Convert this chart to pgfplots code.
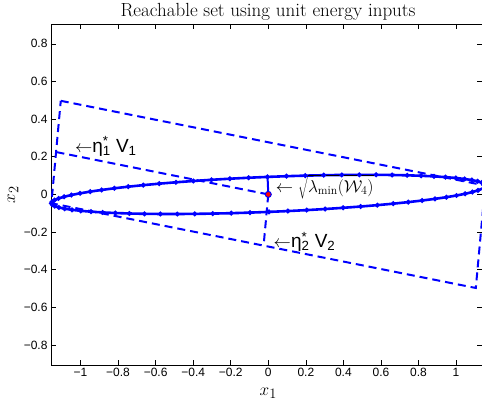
\documentclass[border=0pt]{standalone}
\usepackage{fontspec}
\newfontfamily\hv{Liberation Sans}
\usepackage{pgfplots}
\usepackage{pgfplotstable}
\pgfplotsset{compat=1.18}

% parallelogram corners = +-eta1V1 +- eta2V2
\pgfplotstableread{
x y
-1.105 0.497
1.155 0.047
1.105 -0.497
-1.155 -0.047
-1.105 0.497
}\pgram

\newcommand{\arr}{{\fontsize{16}{18}\selectfont$\leftarrow$}}

\begin{document}
\begin{tikzpicture}
\useasboundingbox (-51pt,-39pt) rectangle (431pt,365pt);
\begin{axis}[
    scale only axis,
    width=431pt, height=341pt,
    xmin=-1.157, xmax=1.138,
    ymin=-0.906, ymax=0.905,
    axis line style={line width=0.8pt, black},
    tick align=inside,
    major tick length=5pt,
    tick style={black, line width=0.5pt},
    xtick={-1,-0.8,-0.6,-0.4,-0.2,0,0.2,0.4,0.6,0.8,1},
    xticklabels={−1,−0.8,−0.6,−0.4,−0.2,0,0.2,0.4,0.6,0.8,1},
    ytick={-0.8,-0.6,-0.4,-0.2,0,0.2,0.4,0.6,0.8},
    yticklabels={−0.8,−0.6,−0.4,−0.2,0,0.2,0.4,0.6,0.8},
    ticklabel style={font=\hv\fontsize{12}{14}\selectfont},
    xlabel={$x_1$},
    xlabel style={font=\fontsize{19}{22}\selectfont, at={(axis description cs:0.504,-0.082)}, anchor=center},
    ylabel={$x_2$},
    ylabel style={font=\fontsize{19}{22}\selectfont, at={(axis description cs:-0.088,0.5)}, anchor=center},
]
% bounding parallelogram
\addplot[blue, line width=2pt, dash pattern=on 8pt off 5pt] table {\pgram};
% eta_1 V_1
\addplot[blue, line width=2pt, dash pattern=on 8pt off 5pt] coordinates {(0,0) (-1.13,0.225)};
% eta_2 V_2
\addplot[blue, line width=2pt, dash pattern=on 8pt off 5pt] coordinates {(0,0) (-0.025,-0.272)};
% reachable ellipse
\addplot[blue, line width=2.6pt, mark=*, mark size=0.9pt] coordinates {
(1.1550,0.0470) (1.1503,0.0549) (1.1368,0.0624) (1.1147,0.0695) (1.0841,0.0760)
(1.0452,0.0819) (0.9984,0.0872) (0.9440,0.0918) (0.8824,0.0957) (0.8141,0.0989)
(0.7396,0.1014) (0.6594,0.1031) (0.5742,0.1040) (0.4847,0.1041) (0.3915,0.1034)
(0.2953,0.1019) (0.1969,0.0997) (0.0969,0.0967) (-0.0038,0.0929) (-0.1044,0.0885)
(-0.2043,0.0834) (-0.3026,0.0776) (-0.3986,0.0712) (-0.4916,0.0644) (-0.5808,0.0570)
(-0.6656,0.0492) (-0.7454,0.0410) (-0.8194,0.0325) (-0.8872,0.0237) (-0.9483,0.0148)
(-1.0022,0.0058) (-1.0484,-0.0033) (-1.0867,-0.0124) (-1.1167,-0.0214) (-1.1382,-0.0302)
(-1.1510,-0.0387) (-1.1550,-0.0470) (-1.1503,-0.0549) (-1.1368,-0.0624) (-1.1147,-0.0695)
(-1.0841,-0.0760) (-1.0452,-0.0819) (-0.9984,-0.0872) (-0.9440,-0.0918) (-0.8824,-0.0957)
(-0.8141,-0.0989) (-0.7396,-0.1014) (-0.6594,-0.1031) (-0.5742,-0.1040) (-0.4847,-0.1041)
(-0.3915,-0.1034) (-0.2953,-0.1019) (-0.1969,-0.0997) (-0.0969,-0.0967) (0.0038,-0.0929)
(0.1044,-0.0885) (0.2043,-0.0834) (0.3026,-0.0776) (0.3986,-0.0712) (0.4916,-0.0644)
(0.5808,-0.0570) (0.6656,-0.0492) (0.7454,-0.0410) (0.8194,-0.0325) (0.8872,-0.0237)
(0.9483,-0.0148) (1.0022,-0.0058) (1.0484,0.0033) (1.0867,0.0124) (1.1167,0.0214)
(1.1382,0.0302) (1.1510,0.0387) (1.1550,0.0470)
};
% sqrt(lambda_min) along the minor axis
\addplot[blue, line width=2pt] coordinates {(0,0) (-0.0038,0.0929)};
% centre
\addplot[only marks, mark=*, mark size=3pt, draw=blue, fill=red, line width=1pt] coordinates {(0,0)};

\node[anchor=base west, inner sep=0pt, font=\hv\fontsize{19}{22}\selectfont]
    at (axis cs:-1.03,0.225) {\arr η\rlap{\textsuperscript{*}}\textsubscript{1} V\textsubscript{1}};
\node[anchor=base west, inner sep=0pt, font=\hv\fontsize{19}{22}\selectfont]
    at (axis cs:0.028,-0.282) {\arr η\rlap{\textsuperscript{*}}\textsubscript{2} V\textsubscript{2}};
\node[anchor=base west, inner sep=0pt, font=\fontsize{17}{20}\selectfont]
    at (axis cs:0.04,0.012) {$\leftarrow\sqrt{\lambda_{\min}(\mathcal{W}_4)}$};
\end{axis}
% title, centred over x = 0
\node[anchor=center, inner sep=0pt, font=\fontsize{19}{22}\selectfont]
    at (217pt,353pt) {Reachable set using unit energy inputs};
\end{tikzpicture}
\end{document}
